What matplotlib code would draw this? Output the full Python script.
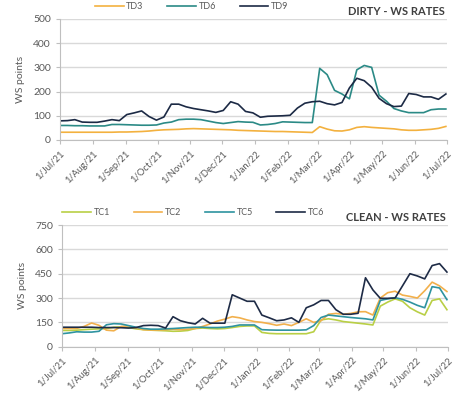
import matplotlib
matplotlib.use("Agg")
import matplotlib.pyplot as plt
import matplotlib.dates as mdates
import pandas as pd

plt.rcParams["font.family"] = ["Lato", "DejaVu Sans"]

# weekly readings, 1 Jul 2021 -> 30 Jun 2022
weeks = pd.date_range("2021-07-01", periods=53, freq="7D")

# dirty tanker WS rates
td3 = [32, 32, 32, 32, 32, 32, 32, 32, 33, 33, 34, 35, 37, 40, 42, 43, 44, 46,
       47, 46, 45, 44, 43, 42, 40, 39, 38, 37, 36, 35, 35, 34, 33, 32, 31, 55,
       45, 38, 37, 42, 52, 55, 52, 50, 48, 46, 42, 40, 40, 42, 44, 48, 56]
td6 = [60, 60, 59, 59, 58, 58, 58, 64, 64, 63, 62, 61, 61, 62, 70, 74, 84, 86,
       86, 84, 78, 72, 68, 72, 76, 74, 73, 62, 64, 68, 75, 74, 73, 72, 72, 296,
       270, 205, 190, 170, 290, 308, 300, 185, 160, 130, 120, 113, 113, 113, 125, 128, 128]
td9 = [79, 80, 84, 74, 73, 73, 78, 84, 80, 105, 112, 120, 97, 82, 95, 148, 148, 137,
       130, 125, 120, 114, 122, 158, 148, 118, 112, 94, 98, 99, 100, 102, 132, 152, 158, 160,
       150, 145, 155, 215, 255, 245, 218, 172, 150, 138, 140, 192, 188, 178, 178, 168, 190]

# clean tanker WS rates
tc1 = [100, 100, 102, 105, 108, 110, 112, 120, 122, 118, 110, 105, 102, 100, 98, 95, 96, 100,
       112, 115, 112, 110, 112, 118, 125, 128, 128, 88, 82, 80, 80, 80, 80, 80, 92, 165,
       172, 165, 155, 150, 145, 140, 134, 250, 275, 295, 280, 240, 215, 195, 285, 295, 228]
tc2 = [112, 112, 113, 125, 146, 132, 102, 98, 125, 128, 115, 105, 103, 103, 105, 108, 105, 108,
       112, 125, 140, 158, 170, 185, 178, 165, 155, 150, 142, 132, 140, 130, 150, 172, 150, 160,
       200, 205, 200, 205, 215, 216, 195, 300, 333, 342, 318, 310, 300, 345, 398, 375, 340]
tc5 = [80, 85, 92, 90, 90, 95, 135, 142, 140, 130, 120, 112, 108, 108, 110, 112, 115, 118,
       120, 120, 118, 118, 120, 125, 134, 134, 134, 105, 103, 102, 102, 102, 102, 104, 130, 180,
       195, 190, 185, 180, 176, 172, 165, 285, 295, 302, 292, 275, 255, 240, 370, 362, 290]
tc6 = [120, 120, 120, 120, 120, 118, 118, 118, 117, 115, 118, 130, 132, 130, 115, 185, 160, 148,
       140, 175, 145, 145, 145, 320, 300, 280, 280, 195, 178, 160, 165, 178, 150, 240, 258, 285,
       285, 228, 200, 200, 206, 425, 350, 298, 298, 300, 375, 450, 436, 418, 500, 512, 460]

dirty = [("TD3", td3, "#F3B13F"), ("TD6", td6, "#2B8A86"), ("TD9", td9, "#1C2A45")]
clean = [("TC1", tc1, "#B9CF45"), ("TC2", tc2, "#F2B04C"), ("TC5", tc5, "#2E93A0"),
         ("TC6", tc6, "#1E2B46")]

grey = "#595959"
fig = plt.figure(figsize=(4.59, 3.97), dpi=100)
ax1 = fig.add_axes([0.1307, 0.6474, 0.843, 0.3048])
ax2 = fig.add_axes([0.135, 0.1267, 0.841, 0.3065])


def style(ax, series, ymax, ystep, title, leg_x):
    for name, vals, col in series:
        ax.plot(weeks, vals, color=col, lw=1.2, label=name)
    ax.set_xlim(pd.Timestamp("2021-07-01"), pd.Timestamp("2022-07-01"))
    ax.set_ylim(0, ymax)
    ax.set_yticks(range(0, ymax + 1, ystep))
    ax.yaxis.grid(True, color="#D9D9D9", lw=1)
    ax.set_axisbelow(True)
    ax.xaxis.set_major_locator(mdates.MonthLocator())
    ax.xaxis.set_major_formatter(mdates.DateFormatter("1/%b/%y"))
    for s in ["top", "right"]:
        ax.spines[s].set_visible(False)
    for s in ["left", "bottom"]:
        ax.spines[s].set_color("#BFBFBF")
    ax.tick_params(axis="both", colors="#BFBFBF", labelcolor=grey, labelsize=7.5, length=3)
    for lab in ax.get_xticklabels():
        lab.set_rotation(45)
        lab.set_ha("right")
        lab.set_va("top")
        lab.set_rotation_mode("anchor")
        lab.set_fontsize(6.8)
    ax.set_ylabel("WS points", color=grey, fontsize=7.5, labelpad=6)
    ax.text(0.995, 1.06, title, transform=ax.transAxes, ha="right", va="center",
            fontsize=8, fontweight="bold", color="#404040")
    leg = ax.legend(loc="center", bbox_to_anchor=(leg_x, 1.1), ncol=len(series), frameon=False,
                    fontsize=6.5, handlelength=3.2, columnspacing=2.6, handletextpad=0.3)
    for t in leg.get_texts():
        t.set_color(grey)


style(ax1, dirty, 500, 100, "DIRTY - WS RATES", 0.34)
style(ax2, clean, 750, 150, "CLEAN - WS RATES", 0.34)

fig.savefig("out.png", dpi=100)
